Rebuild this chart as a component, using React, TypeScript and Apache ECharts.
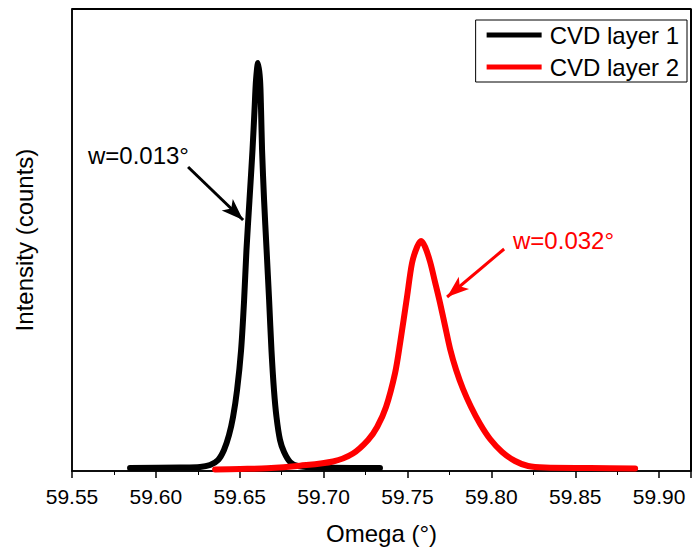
import React, { useEffect, useRef } from "react";
import * as echarts from "echarts";

const FONT = "'Liberation Sans', Arial, Helvetica, sans-serif";

// CVD layer 1 (omega in degrees, intensity in counts)
const omega1 = [59.5846, 59.6144, 59.6263, 59.6323, 59.6371, 59.6406, 59.6436, 59.646, 59.6484, 59.6508, 59.6526, 59.654, 59.6558, 59.6576, 59.6588, 59.6597, 59.6609, 59.6621, 59.6627, 59.6633, 59.6645, 59.666, 59.6675, 59.6689, 59.6704, 59.6719, 59.674, 59.6764, 59.68, 59.6847, 59.6979, 59.7336];
const counts1 = [30, 35, 40, 60, 110, 210, 360, 540, 810, 1210, 1710, 2210, 2710, 3210, 3610, 3910, 4080, 3910, 3610, 3210, 2710, 2210, 1710, 1210, 810, 540, 310, 190, 90, 50, 35, 30];

// CVD layer 2
const omega2 = [59.6353, 59.6502, 59.6663, 59.6859, 59.7056, 59.7175, 59.7265, 59.7319, 59.7372, 59.7426, 59.7456, 59.7497, 59.7527, 59.7557, 59.7581, 59.7605, 59.7635, 59.7664, 59.7694, 59.7724, 59.7754, 59.779, 59.7831, 59.7879, 59.7933, 59.7992, 59.8064, 59.8141, 59.8219, 59.832, 59.8589, 59.8857];
const counts2 = [15, 20, 27, 53, 95, 175, 310, 440, 640, 980, 1280, 1740, 2080, 2240, 2300, 2240, 2090, 1890, 1680, 1450, 1220, 1010, 820, 640, 470, 320, 190, 100, 50, 35, 30, 25];

const seriesNames = ["CVD layer 1", "CVD layer 2"];
const seriesColors = ["#000000", "#ff0000"];

const xTicks = { min: 59.55, max: 59.919, interval: 0.05 };
const yRange = { min: 0, max: 4620 };

// annotations in data coordinates
const annoTexts = ["w=0.013°", "w=0.032°"];
const annoTextPos = [[59.5595, 3160], [59.8129, 2310]];
const arrowFrom = [[59.6192, 3040], [59.8076, 2220]];
const arrowTo = [[59.652, 2510], [59.7736, 1740]];

export default function App() {
  const ref = useRef<HTMLDivElement>(null);
  useEffect(() => {
    if (!ref.current) return;
    const chart = echarts.init(ref.current, undefined, { renderer: "svg" });
    const d1 = omega1.map((x, i) => [x, counts1[i]]);
    const d2 = omega2.map((x, i) => [x, counts2[i]]);
    const mkSeries = (i: number, data: number[][]) => ({
      name: seriesNames[i],
      type: "line",
      data,
      showSymbol: false,
      smooth: 0.3,
      lineStyle: { color: seriesColors[i], width: 6, cap: "round", join: "round" },
      itemStyle: { color: seriesColors[i] },
      markLine: {
        silent: true,
        symbol: ["none", "arrow"],
        symbolSize: [12, 22],
        label: { show: false },
        lineStyle: { color: seriesColors[i], width: 3, type: "solid" },
        data: [[{ coord: arrowFrom[i] }, { coord: arrowTo[i] }]],
      },
    });
    const frameLine = { show: true, onZero: false, lineStyle: { color: "#000", width: 1.5 } };
    chart.setOption({
      animation: false,
      backgroundColor: "#fff",
      textStyle: { fontFamily: FONT },
      grid: { left: 72, right: 3, top: 9, bottom: 81, show: true, borderColor: "#000", borderWidth: 1.5, backgroundColor: "transparent" },
      legend: {
        orient: "vertical",
        right: 7,
        top: 20,
        icon: "rect",
        itemWidth: 55,
        itemHeight: 5,
        itemGap: 8,
        padding: [3, 8, 3, 11],
        borderColor: "#000",
        borderWidth: 1,
        backgroundColor: "#fff",
        textStyle: { fontSize: 24, color: "#000", fontFamily: FONT, padding: [0, 0, 0, 3] },
        data: seriesNames,
      },
      xAxis: {
        type: "value",
        min: xTicks.min,
        max: xTicks.max,
        interval: xTicks.interval,
        name: "Omega (°)",
        nameLocation: "middle",
        nameGap: 50,
        nameTextStyle: { fontSize: 24, color: "#000", fontFamily: FONT },
        axisLine: frameLine,
        axisTick: { show: true, inside: false, length: 7, lineStyle: { color: "#000", width: 1.5 } },
        minorTick: { show: true, splitNumber: 2, length: 4, lineStyle: { color: "#000", width: 1 } },
        splitLine: { show: false },
        axisLabel: {
          fontSize: 21,
          color: "#000",
          margin: 15,
          fontFamily: FONT,
          formatter: (v: number) => (Math.abs(v * 20 - Math.round(v * 20)) < 1e-6 ? v.toFixed(2) : ""),
        },
      },
      yAxis: {
        type: "value",
        min: yRange.min,
        max: yRange.max,
        name: "Intensity (counts)",
        nameLocation: "middle",
        nameGap: 36,
        nameTextStyle: { fontSize: 24, color: "#000", fontFamily: FONT },
        axisLine: frameLine,
        axisTick: { show: false },
        axisLabel: { show: false },
        splitLine: { show: false },
      },
      series: [mkSeries(0, d1), mkSeries(1, d2)],
    });
    const graphic: any[] = annoTexts.map((t, i) => {
      const p = chart.convertToPixel({ seriesIndex: 0 }, annoTextPos[i]) as number[];
      return {
        type: "text",
        x: p[0],
        y: p[1],
        style: { text: t, fill: seriesColors[i], fontSize: 24, fontFamily: FONT, textVerticalAlign: "middle", textAlign: "left" },
        z: 100,
      };
    });
    const tl = chart.convertToPixel({ seriesIndex: 0 }, [xTicks.min, yRange.max]) as number[];
    const br = chart.convertToPixel({ seriesIndex: 0 }, [xTicks.max, yRange.min]) as number[];
    graphic.push({
      type: "line",
      shape: { x1: tl[0], y1: tl[1], x2: br[0], y2: tl[1] },
      style: { stroke: "#000", lineWidth: 2 },
      silent: true,
      z: 50,
    });
    graphic.push({
      type: "line",
      shape: { x1: br[0], y1: tl[1], x2: br[0], y2: br[1] },
      style: { stroke: "#000", lineWidth: 2 },
      silent: true,
      z: 50,
    });
    chart.setOption({ graphic });
    return () => chart.dispose();
  }, []);
  return <div ref={ref} style={{ width: 694, height: 552, position: "absolute", left: 0, top: 0 }} />;
}
